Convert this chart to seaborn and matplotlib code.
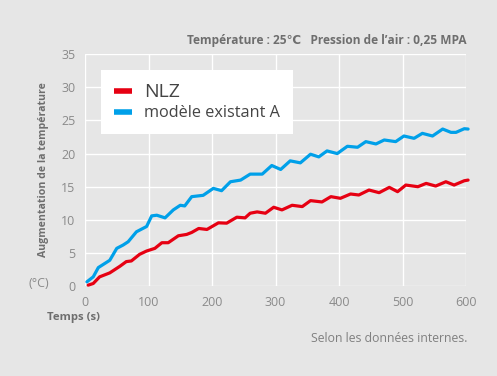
import numpy as np
import pandas as pd
import matplotlib as mpl
import matplotlib.pyplot as plt
from matplotlib.lines import Line2D
import seaborn as sns

# NLZ (red)
t_nlz = [5, 13, 23, 39, 55, 65, 73, 86, 97, 110, 121, 131, 147, 160, 168, 179, 192,
         210, 223, 239, 252, 260, 271, 284, 297, 310, 326, 342, 355, 373, 387, 402,
         418, 431, 447, 463, 479, 492, 505, 524, 537, 552, 568, 581, 597, 603]
v_nlz = [0.15, 0.4, 1.4, 2.0, 3.0, 3.7, 3.8, 4.8, 5.3, 5.7, 6.55, 6.55, 7.6, 7.8, 8.1,
         8.7, 8.55, 9.55, 9.5, 10.4, 10.3, 11.0, 11.2, 11.0, 11.9, 11.5, 12.2, 12.0,
         12.9, 12.7, 13.5, 13.25, 13.9, 13.75, 14.5, 14.1, 14.9, 14.25, 15.25, 15.0,
         15.5, 15.1, 15.75, 15.25, 15.9, 16.0]

# modèle existant A (blue)
t_ext = [3, 13, 21, 39, 50, 60, 68, 81, 97, 105, 113, 126, 139, 150, 157, 168, 186,
         202, 215, 229, 245, 260, 279, 294, 308, 323, 339, 355, 368, 381, 397, 413,
         429, 442, 458, 471, 489, 502, 518, 531, 547, 563, 576, 584, 597, 603]
v_ext = [0.65, 1.4, 2.8, 3.9, 5.7, 6.2, 6.7, 8.2, 9.0, 10.6, 10.7, 10.3, 11.5, 12.2,
         12.1, 13.5, 13.7, 14.75, 14.4, 15.75, 16.0, 16.9, 16.9, 18.2, 17.6, 18.9,
         18.6, 19.9, 19.5, 20.4, 20.0, 21.1, 20.95, 21.8, 21.45, 22.05, 21.8, 22.65,
         22.3, 23.05, 22.65, 23.7, 23.2, 23.2, 23.75, 23.7]

series = ['NLZ', 'modèle existant A']
colors = {'NLZ': '#e60012', 'modèle existant A': '#00a0e9'}
xticks = [0, 100, 200, 300, 400, 500, 600]
yticks = [0, 5, 10, 15, 20, 25, 30, 35]

df = pd.concat([
    pd.DataFrame({'t': t_nlz, 'v': v_nlz, 'serie': series[0]}),
    pd.DataFrame({'t': t_ext, 'v': v_ext, 'serie': series[1]}),
])

bg = '#e6e6e6'
sns.set_theme(style='whitegrid', rc={
    'axes.facecolor': bg, 'figure.facecolor': bg,
    'grid.color': 'white', 'grid.linewidth': 1.0,
})
plt.rcParams['font.family'] = ['Open Sans', 'DejaVu Sans']

fig = plt.figure(figsize=(4.97, 3.76), dpi=100)
ax = fig.add_axes([0.171, 0.239, 0.767, 0.617])

sns.lineplot(data=df, x='t', y='v', hue='serie', palette=colors,
             linewidth=2.3, legend=False, ax=ax, clip_on=False)

ax.set_xlim(0, 600)
ax.set_ylim(0, 35)
ax.set_xticks(xticks)
ax.set_yticks(yticks)
for s in ax.spines.values():
    s.set_visible(False)
ax.tick_params(axis='both', colors='white', length=4, width=1.0,
               labelcolor='#8a8a8a', labelsize=9, pad=3)
ax.set_xlabel('')
ax.set_ylabel('')

gray = '#6e6e6e'
fig.text(0.938, 0.893, 'Température : 25℃   Pression de l\u2019air : 0,25 MPA',
         ha='right', va='center', fontsize=8.6, fontweight='bold', color=gray)
fig.text(0.087, 0.55, 'Augmentation de la température', rotation=90,
         ha='center', va='center', fontsize=7.6, fontweight='bold', color=gray)
fig.text(0.078, 0.245, '(°C)', ha='center', va='center', fontsize=9, color='#8a8a8a')
fig.text(0.147, 0.155, 'Temps (s)', ha='center', va='center', fontsize=8.2,
         fontweight='bold', color=gray)
fig.text(0.94, 0.101, 'Selon les données internes.', ha='right', va='center',
         fontsize=8.8, color='#808080')

handles = [Line2D([], [], color=colors[s], linewidth=4, solid_capstyle='butt')
           for s in series]
leg = fig.legend(handles, series, loc='upper left', bbox_to_anchor=(0.203, 0.815),
                 frameon=True, fancybox=False, framealpha=1, edgecolor='white',
                 facecolor='white', handlelength=1.2, handletextpad=0.8,
                 borderpad=0.85, labelspacing=0.3, borderaxespad=0)
leg.get_frame().set_linewidth(0)
texts = leg.get_texts()
texts[0].set_fontsize(14)
texts[1].set_fontsize(11.7)
for t in texts:
    t.set_color('#444444')

fig.savefig('out.png', dpi=100, facecolor=bg)
